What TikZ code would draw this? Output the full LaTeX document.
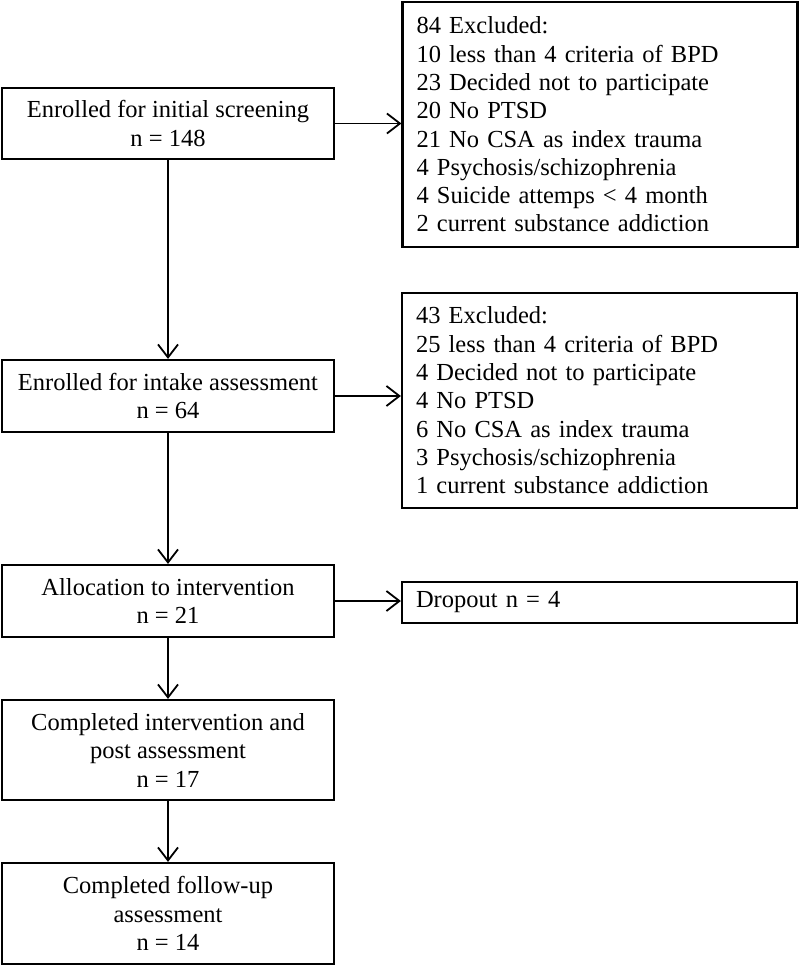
\documentclass[tikz,border=0pt]{standalone}
\usepackage{fontspec}
\setmainfont{Liberation Serif}
\usetikzlibrary{arrows.meta}
\begin{document}
\begin{tikzpicture}[x=1pt,y=-1pt,
  box/.style={draw=black,line width=2.2pt,inner sep=0pt,align=center,
    font=\fontsize{24.5}{28.5}\selectfont,minimum width=332pt},
  sidebox/.style={draw=black,line width=2.2pt,inner xsep=14pt,inner ysep=0pt,align=left,
    font=\fontsize{24.5}{28.3}\selectfont,minimum width=395pt,text width=367pt},
  arr/.style={line width=1.8pt,-{Straight Barb[length=13pt,width=20pt,line width=1.8pt]}}]
\useasboundingbox (0,0) rectangle (800,968);
\fill[white] (0,0) rectangle (800,968);
\node[box,minimum height=71pt] (b1) at (168,123.5) {Enrolled for initial screening\\n = 148};
\node[box,minimum height=72pt] (b2) at (168,396) {Enrolled for intake assessment\\n = 64};
\node[box,minimum height=72pt] (b3) at (168,601) {Allocation to intervention\\n = 21};
\node[box,minimum height=100pt] (b4) at (168,750) {Completed intervention and\\post assessment\\n = 17};
\node[box,minimum height=101pt] (b5) at (168,913.5) {Completed follow-up\\assessment\\n = 14};
\node[sidebox,minimum height=245pt] (r1) at (600,124.5) {84 Excluded:\\10 less than 4 criteria of BPD\\23 Decided not to participate\\20 No PTSD\\21 No CSA as index trauma\\4 Psychosis/schizophrenia\\4 Suicide attemps < 4 month\\2 current substance addiction};
\node[sidebox,minimum height=215pt] (r2) at (599.5,400.5) {43 Excluded:\\25 less than 4 criteria of BPD\\4 Decided not to participate\\4 No PTSD\\6 No CSA as index trauma\\3 Psychosis/schizophrenia\\1 current substance addiction};
\node[sidebox,minimum height=41pt] (r3) at (599.5,602.5) {Dropout n = 4};
\draw[arr] (b1.east) -- (b1.east -| r1.west);
\draw[arr] (b2.east) -- (b2.east -| r2.west);
\draw[arr] (b3.east) -- (b3.east -| r3.west);
\draw[arr] (b1.south) -- (b2.north);
\draw[arr] (b2.south) -- (b3.north);
\draw[arr] (b3.south) -- (b4.north);
\draw[arr] (b4.south) -- (b5.north);
\end{tikzpicture}
\end{document}
